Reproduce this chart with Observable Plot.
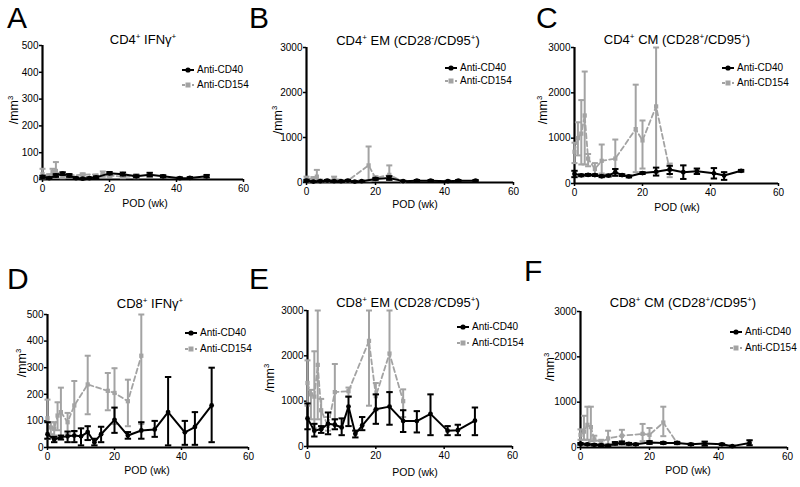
<!DOCTYPE html>
<html><head><meta charset="utf-8">
<script src="https://cdn.jsdelivr.net/npm/d3@7"></script>
<script src="https://cdn.jsdelivr.net/npm/@observablehq/plot@0.6"></script>
<style>
body{margin:0;background:#fff;}
#c{position:relative;width:800px;height:487px;font-family:"Liberation Sans",Arial,sans-serif;overflow:hidden;color:#000;}
.abs{position:absolute;white-space:nowrap;line-height:1;}
.letter{font-size:30px;}
.title{font-size:13px;transform:translate(-50%,-50%);}
.xlab{font-size:10.5px;transform:translate(-50%,-50%);}
.ylab{font-size:12.5px;transform:translate(-50%,-50%) rotate(-90deg);}
.leg{font-size:10px;transform:translateY(-50%);}
sup{font-size:0.62em;vertical-align:0.6em;line-height:0;}
svg{position:absolute;}
</style>
</head><body><div id="c"></div>
<script>
// ---- data ----
const weeksCD40 = [0,2,4,6,8,10,12,14,16,20,24,28,32,36,41,44,49];
const weeksCD154 = [0,1,2,3,4,6,8,12,18,20,24,28];
const xTicks = [0,20,40,60];
const yTicksIFN = [0,100,200,300,400,500];
const yTicksMem = [0,1000,2000,3000];
const seriesNames = ["Anti-CD40","Anti-CD154"];
const panelLetters = ["A","B","C","D","E","F"];
const panelTitles = [
  "CD4<sup>+</sup> IFNγ<sup>+</sup>",
  "CD4<sup>+</sup> EM (CD28<sup>-</sup>/CD95<sup>+</sup>)",
  "CD4<sup>+</sup> CM (CD28<sup>+</sup>/CD95<sup>+</sup>)",
  "CD8<sup>+</sup> IFNγ<sup>+</sup>",
  "CD8<sup>+</sup> EM (CD28<sup>-</sup>/CD95<sup>+</sup>)",
  "CD8<sup>+</sup> CM (CD28<sup>+</sup>/CD95<sup>+</sup>)"
];
const xLabel = "POD (wk)";
const yLabel = "/mm<sup>3</sup>";

// Panel A: CD4+ IFNg+
const a40Mean = [10,5,15,22,15,5,3,5,8,23,20,12,18,12,5,6,12];
const a40Lo   = [6,2,10,17,10,2,1,2,5,19,15,8,11,8,2,3,8];
const a40Hi   = [14,8,20,27,20,8,5,8,12,28,26,16,25,16,8,9,17];
const a154Mean = [20,10,12,28,32,10,15,18,20,15,10,12];
const a154Lo   = [5,5,5,15,8,5,10,14,10,10,5,5];
const a154Hi   = [40,15,20,40,65,15,20,23,30,20,15,20];
// Panel B: CD4+ EM
const b40Mean = [40,20,30,40,30,30,40,20,30,80,100,30,40,40,30,40,40];
const b40Lo   = [20,10,20,25,20,20,25,10,20,60,60,20,25,25,20,25,25];
const b40Hi   = [60,30,40,55,40,40,55,30,40,100,140,40,55,55,40,55,55];
const b154Mean = [80,50,80,130,40,40,80,40,380,100,170,20];
const b154Lo   = [30,20,40,30,20,20,30,20,30,60,50,10];
const b154Hi   = [130,80,120,280,60,60,130,60,800,140,380,30];
// Panel C: CD4+ CM
const c40Mean = [210,180,190,185,160,175,250,185,155,230,260,310,250,270,225,175,280];
const c40Lo   = [140,160,170,165,140,155,170,165,135,210,175,210,100,210,110,80,260];
const c40Hi   = [280,200,210,205,180,195,320,205,175,250,350,390,400,330,340,250,300];
const c154Mean = [700,1000,1100,1500,550,320,500,550,1200,950,1700,300];
const c154Lo   = [450,620,420,420,380,170,220,180,250,330,240,140];
const c154Hi   = [900,1350,1840,2470,650,450,860,970,2180,1390,3000,440];
// Panel D: CD8+ IFNg+
const d40Mean = [50,30,39,42,45,42,58,20,50,104,45,64,68,133,57,77,158];
const d40Lo   = [33,20,30,20,20,8,28,8,20,55,33,33,40,8,10,10,20];
const d40Hi   = [95,40,45,60,62,72,80,33,78,150,58,95,100,265,100,133,300];
const d154Mean = [110,75,70,120,133,95,158,237,213,205,174,345];
const d154Lo   = [33,50,45,65,33,50,60,125,140,88,80,88];
const d154Hi   = [180,95,95,170,225,130,250,345,280,298,255,500];
// Panel E: CD8+ EM
const e40Mean = [620,350,380,500,480,420,880,280,463,820,880,560,560,720,350,360,570];
const e40Lo   = [380,220,300,270,380,250,450,200,360,500,480,320,310,250,250,250,250];
const e40Hi   = [950,500,450,750,600,620,1100,350,650,1150,1200,800,780,1150,450,480,860];
const e154Mean = [1400,1150,1100,1800,800,450,1200,1220,2330,1110,2050,1000];
const e154Lo   = [900,600,400,600,400,350,600,1100,900,800,1200,650];
const e154Hi   = [1900,1250,2100,3000,1050,650,1820,1300,3000,1400,3000,1260];
// Panel F: CD8+ CM
const f40Mean = [80,70,60,50,40,90,100,80,70,110,100,100,70,90,70,30,100];
const f40Lo   = [60,55,45,35,30,60,70,60,55,80,80,80,55,40,55,20,50];
const f40Hi   = [100,85,75,65,50,120,130,100,85,140,120,120,85,130,85,40,160];
const f154Mean = [280,350,500,450,180,120,200,260,300,280,550,100];
const f154Lo   = [170,170,170,140,150,80,80,140,140,140,250,70];
const f154Hi   = [400,700,900,900,260,170,370,390,520,430,900,130];

const panelData = [
  [a40Mean,a40Lo,a40Hi,a154Mean,a154Lo,a154Hi, 500, yTicksIFN],
  [b40Mean,b40Lo,b40Hi,b154Mean,b154Lo,b154Hi, 3000, yTicksMem],
  [c40Mean,c40Lo,c40Hi,c154Mean,c154Lo,c154Hi, 3000, yTicksMem],
  [d40Mean,d40Lo,d40Hi,d154Mean,d154Lo,d154Hi, 500, yTicksIFN],
  [e40Mean,e40Lo,e40Hi,e154Mean,e154Lo,e154Hi, 3000, yTicksMem],
  [f40Mean,f40Lo,f40Hi,f154Mean,f154Lo,f154Hi, 3000, yTicksMem]
];

// ---- layout (pixels) ----
const layout = [
  {ax:42, x60:243, yt:45, y0:179, letter:[7,3], title:[143,39], xl:[145,203], yl:[14,110], leg:[197,70,85]},
  {ax:306,x60:513, yt:47, y0:182, letter:[249,3], title:[408,40], xl:[415,204], yl:[278,120], leg:[460,68,81]},
  {ax:574,x60:778, yt:47, y0:183, letter:[536,3], title:[677,39], xl:[677,207], yl:[543,110], leg:[737,68,83]},
  {ax:47, x60:248, yt:314,y0:447, letter:[7,264], title:[150,303], xl:[147,470], yl:[22,363], leg:[200,333,349]},
  {ax:307,x60:512, yt:310,y0:446, letter:[249,264], title:[408,302], xl:[415,472], yl:[270,378], leg:[472,327,343]},
  {ax:580,x60:787, yt:311,y0:447, letter:[524,256], title:[683,302], xl:[688,470], yl:[550,367], leg:[745,332,348]}
];

const BLACK = "#000";
const GRAY = "#a3a3a3";
const capSymbol = {draw(ctx, size){const r = Math.sqrt(size/Math.PI); ctx.moveTo(-r,0); ctx.lineTo(r,0);}};

const root = document.getElementById("c");
function addDiv(cls, html, x, y){
  const d = document.createElement("div");
  d.className = "abs " + cls; d.innerHTML = html;
  d.style.left = x + "px"; d.style.top = y + "px";
  root.appendChild(d); return d;
}
function legendSymbol(color, dashed, square){
  const ns = "http://www.w3.org/2000/svg";
  const s = document.createElementNS(ns,"svg");
  s.setAttribute("width",12); s.setAttribute("height",8);
  s.style.position="static"; s.style.verticalAlign="middle"; s.style.marginRight="3px";
  s.innerHTML = `<line x1="0" y1="4" x2="12" y2="4" stroke="${color}" stroke-width="2" ${dashed?'stroke-dasharray="3,2"':''}/>` +
    (square ? `<rect x="3.5" y="1.5" width="5" height="5" fill="${color}"/>` : `<circle cx="6" cy="4" r="2.6" fill="${color}"/>`);
  return s;
}

panelData.forEach((pd, i) => {
  const [m40,lo40,hi40,m154,lo154,hi154,ymax,yticks] = pd;
  const L = layout[i];
  const mL=40, mR=10, mT=6, mB=30;
  const width = (L.x60 - L.ax) + mL + mR;
  const height = (L.y0 - L.yt) + mT + mB;
  const s40 = weeksCD40.map((w,k)=>({w, m:m40[k], lo:lo40[k], hi:hi40[k]}));
  const s154 = weeksCD154.map((w,k)=>({w, m:m154[k], lo:lo154[k], hi:hi154[k]}));
  const svg = Plot.plot({
    width, height, marginLeft:mL, marginRight:mR, marginTop:mT, marginBottom:mB,
    x:{domain:[0,60]}, y:{domain:[0,ymax]},
    style:{fontFamily:'"Liberation Sans", Arial, sans-serif', fontSize:"10px", background:"transparent", overflow:"visible", color:"#000"},
    marks:[
      Plot.axisX({ticks:xTicks, tickSize:3, tickPadding:2, strokeWidth:1.5, label:null, fill:"#000"}),
      Plot.axisY({ticks:yticks, tickSize:3, tickPadding:1, strokeWidth:1.5, label:null, fill:"#000", tickFormat:d=>String(d)}),
      Plot.ruleY([0], {stroke:BLACK, strokeWidth:2.2}),
      Plot.ruleX([0], {stroke:BLACK, strokeWidth:2.2}),
      // Anti-CD154
      Plot.ruleX(s154, {x:"w", y1:"lo", y2:"hi", stroke:GRAY, strokeWidth:2}),
      Plot.dot(s154, {x:"w", y:"hi", symbol:capSymbol, r:3, stroke:GRAY, strokeWidth:2, fill:"none"}),
      Plot.dot(s154, {x:"w", y:"lo", symbol:capSymbol, r:3, stroke:GRAY, strokeWidth:2, fill:"none"}),
      Plot.line(s154, {x:"w", y:"m", stroke:GRAY, strokeWidth:1.8, strokeDasharray:"5,3"}),
      Plot.dot(s154, {x:"w", y:"m", symbol:"square", r:2.4, fill:GRAY}),
      // Anti-CD40
      Plot.ruleX(s40, {x:"w", y1:"lo", y2:"hi", stroke:BLACK, strokeWidth:2}),
      Plot.dot(s40, {x:"w", y:"hi", symbol:capSymbol, r:3.2, stroke:BLACK, strokeWidth:2, fill:"none"}),
      Plot.dot(s40, {x:"w", y:"lo", symbol:capSymbol, r:3.2, stroke:BLACK, strokeWidth:2, fill:"none"}),
      Plot.line(s40, {x:"w", y:"m", stroke:BLACK, strokeWidth:2}),
      Plot.dot(s40, {x:"w", y:"m", r:2.4, fill:BLACK})
    ]
  });
  svg.style.left = (L.ax - mL) + "px";
  svg.style.top = (L.yt - mT) + "px";
  root.appendChild(svg);

  addDiv("letter", panelLetters[i], L.letter[0], L.letter[1]);
  addDiv("title", panelTitles[i], L.title[0], L.title[1]);
  addDiv("xlab", xLabel, L.xl[0], L.xl[1]);
  addDiv("ylab", yLabel, L.yl[0], L.yl[1]);
  const r1 = addDiv("leg", seriesNames[0], L.leg[0]-15, L.leg[1]);
  r1.insertBefore(legendSymbol(BLACK,false,false), r1.firstChild);
  const r2 = addDiv("leg", seriesNames[1], L.leg[0]-15, L.leg[2]);
  r2.insertBefore(legendSymbol(GRAY,true,true), r2.firstChild);
});
</script>
</body></html>
